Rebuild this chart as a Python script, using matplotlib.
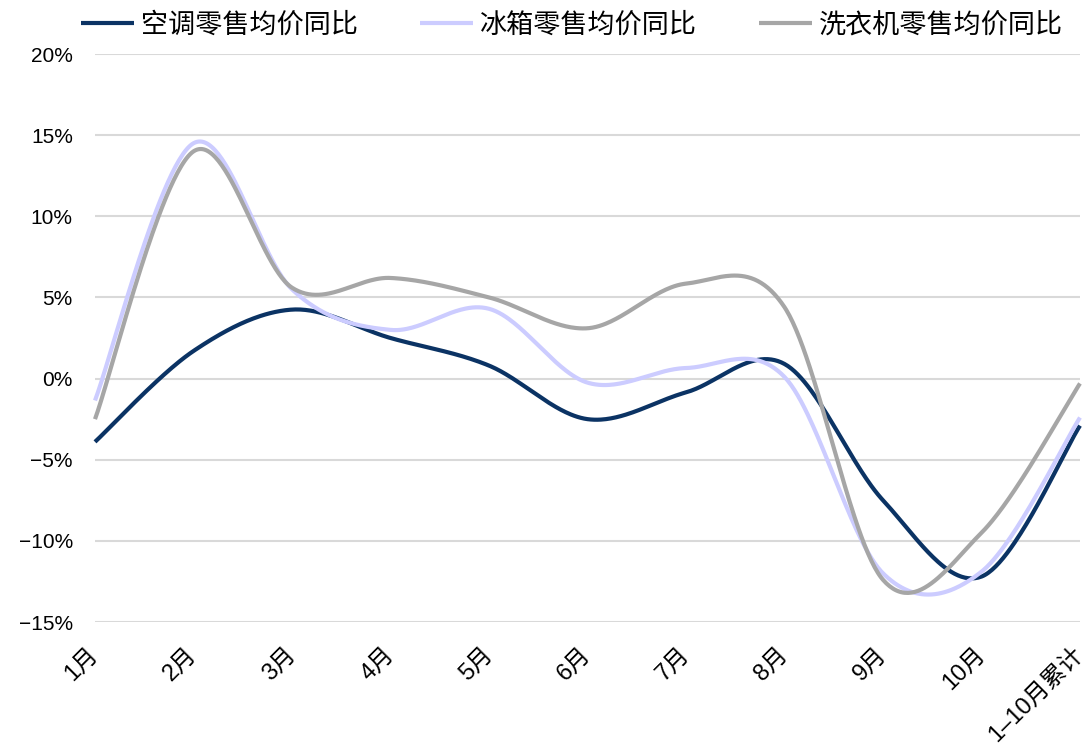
import numpy as np
import matplotlib
matplotlib.use("Agg")
import matplotlib.pyplot as plt

plt.rcParams['font.family'] = ['Liberation Sans', 'Noto Sans CJK SC', 'DejaVu Sans']

months = ['1月', '2月', '3月', '4月', '5月', '6月', '7月', '8月', '9月', '10月', '1–10月累计']
series_names = ['空调零售均价同比', '冰箱零售均价同比', '洗衣机零售均价同比']

# 零售均价同比 (%)
ac_yoy = [-3.9, 1.7, 4.25, 2.5, 0.8, -2.5, -0.85, 0.9, -7.5, -12.2, -2.9]
fridge_yoy = [-1.35, 14.5, 5.5, 3.0, 4.3, -0.25, 0.65, 0.1, -12.0, -11.9, -2.4]
washer_yoy = [-2.5, 14.0, 5.6, 6.2, 5.0, 3.1, 5.85, 4.4, -12.4, -9.5, -0.3]

colors = ['#0b3364', '#ccccff', '#a6a6a6']


def smooth(xs, ys, n=60):
    """Bezier smoothing through every point, like a spreadsheet's smoothed line."""
    p = np.column_stack([xs, ys]).astype(float)
    ext = np.vstack([p[0], p, p[-1]])
    t = np.linspace(0, 1, n)[:, None]
    out = []
    for i in range(len(p) - 1):
        p0, p3 = ext[i + 1], ext[i + 2]
        c1 = p0 + (ext[i + 2] - ext[i]) / 6
        c2 = p3 - (ext[i + 3] - ext[i + 1]) / 6
        seg = ((1 - t) ** 3) * p0 + 3 * ((1 - t) ** 2) * t * c1 + 3 * (1 - t) * t ** 2 * c2 + t ** 3 * p3
        out.append(seg if i == 0 else seg[1:])
    out = np.vstack(out)
    return out[:, 0], out[:, 1]


fig = plt.figure(figsize=(10.84, 7.52), dpi=100)
ax = fig.add_axes([95 / 1084, 1 - 622 / 752, 985 / 1084, 568 / 752])

x = np.arange(len(months))
handles = []
for name, vals, c in zip(series_names, [ac_yoy, fridge_yoy, washer_yoy], colors):
    sx, sy = smooth(x, vals)
    h, = ax.plot(sx, sy, color=c, lw=3.0, label=name, clip_on=False,
                 solid_capstyle='butt', zorder=3)
    handles.append(h)

ax.set_xlim(0, len(months) - 1)
ax.set_ylim(-15, 20)
ax.set_yticks(np.arange(-15, 21, 5))
ax.set_yticklabels([f'{v}%'.replace('-', '−') for v in range(-15, 21, 5)], fontsize=15)
ax.set_xticks(x)
ax.set_xticklabels(months, fontsize=17, rotation=45, ha='right', va='center',
                   rotation_mode='anchor')

ax.grid(axis='y', color='#d9d9d9', lw=1.5)
ax.set_axisbelow(True)
for s in ax.spines.values():
    s.set_visible(False)
ax.tick_params(axis='y', length=0, pad=16)
ax.tick_params(axis='x', length=0, pad=21)

fig.legend(handles=handles, loc='center', bbox_to_anchor=(572 / 1084, 1 - 25 / 752),
           ncol=3, frameon=False, prop={'family': ['Noto Sans CJK SC'], 'size': 19.5},
           handlelength=1.95, handletextpad=0.25, columnspacing=2.3, borderaxespad=0)

fig.savefig('out.png', dpi=100)
